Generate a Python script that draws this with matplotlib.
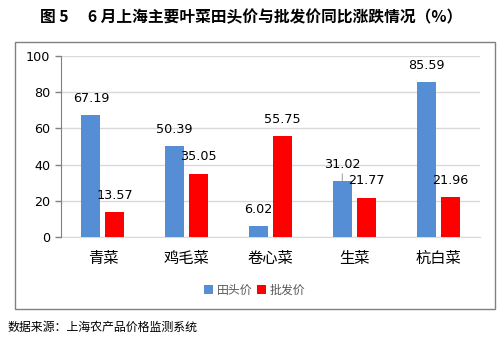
import matplotlib
matplotlib.use("Agg")
import matplotlib.pyplot as plt
from matplotlib.patches import Rectangle
import numpy as np

plt.rcParams['font.family'] = ['Noto Sans CJK SC', 'DejaVu Sans']

categories = ['青菜', '鸡毛菜', '卷心菜', '生菜', '杭白菜']
farm_price = [67.19, 50.39, 6.02, 31.02, 85.59]
wholesale_price = [13.57, 35.05, 55.75, 21.77, 21.96]
series_names = ['田头价', '批发价']
yticks = [0, 20, 40, 60, 80, 100]

blue = '#558ED5'
red = '#FF0000'

fig = plt.figure(figsize=(5.03, 3.45), dpi=100)
ax = fig.add_axes([0.1213, 0.313, 0.833, 0.525])

# outer chart frame
fig.patches.append(Rectangle((0.0298, 0.104), 0.954, 0.775, transform=fig.transFigure,
                             fill=False, edgecolor='#808080', linewidth=1.0))

x = np.arange(len(categories))
w = 0.227
off = 0.143
b1 = ax.bar(x - off, farm_price, w, color=blue, label=series_names[0], zorder=3)
b2 = ax.bar(x + off, wholesale_price, w, color=red, label=series_names[1], zorder=3)

for bars, vals in ((b1, farm_price), (b2, wholesale_price)):
    for rect, v in zip(bars, vals):
        ax.annotate(f'{v:.2f}', (rect.get_x() + rect.get_width() / 2, v),
                    xytext=(0, 12), textcoords='offset points',
                    ha='center', va='center', fontsize=9.2, color='#000000',
                    family=['DejaVu Sans'])

# leader line under the 31.02 label
lead = b1[3]
ax.annotate('', (lead.get_x() + lead.get_width() / 2, farm_price[3]),
            xytext=(0, 5), textcoords='offset points',
            arrowprops=dict(arrowstyle='-', color='#A6A6A6', lw=0.8,
                            shrinkA=0, shrinkB=0))

ax.set_xlim(-0.5, len(categories) - 0.5)
ax.set_ylim(0, 100)
ax.set_yticks(yticks)
ax.set_yticklabels([str(t) for t in yticks], fontsize=9.2, family=['DejaVu Sans'])
ax.set_xticks(x)
ax.set_xticklabels(categories, fontsize=11)
ax.tick_params(axis='x', length=0, pad=9)
ax.tick_params(axis='y', length=4.3, pad=3.5, color='#808080', width=1)
ax.grid(axis='y', color='#D9D9D9', linewidth=1, zorder=0)
for s in ('top', 'right'):
    ax.spines[s].set_visible(False)
ax.spines['left'].set_color('#808080')
ax.spines['bottom'].set_color('#D9D9D9')
ax.spines['bottom'].set_zorder(1)

leg = fig.legend(handles=[b1, b2], loc='center', bbox_to_anchor=(0.506, 0.159),
                 ncol=2, frameon=False, fontsize=8.6, handlelength=0.75,
                 handleheight=0.75, handletextpad=0.3, columnspacing=0.4)
for t in leg.get_texts():
    t.set_color('#595959')

fig.text(0.5, 0.951, '图 5　 6 月上海主要叶菜田头价与批发价同比涨跌情况（%）',
         ha='center', va='center', fontsize=11.3, fontweight='bold', color='#000000')
fig.text(0.014, 0.052, '数据来源：上海农产品价格监测系统', ha='left', va='center',
         fontsize=8.6, color='#000000')

fig.savefig('out.png', dpi=100)
